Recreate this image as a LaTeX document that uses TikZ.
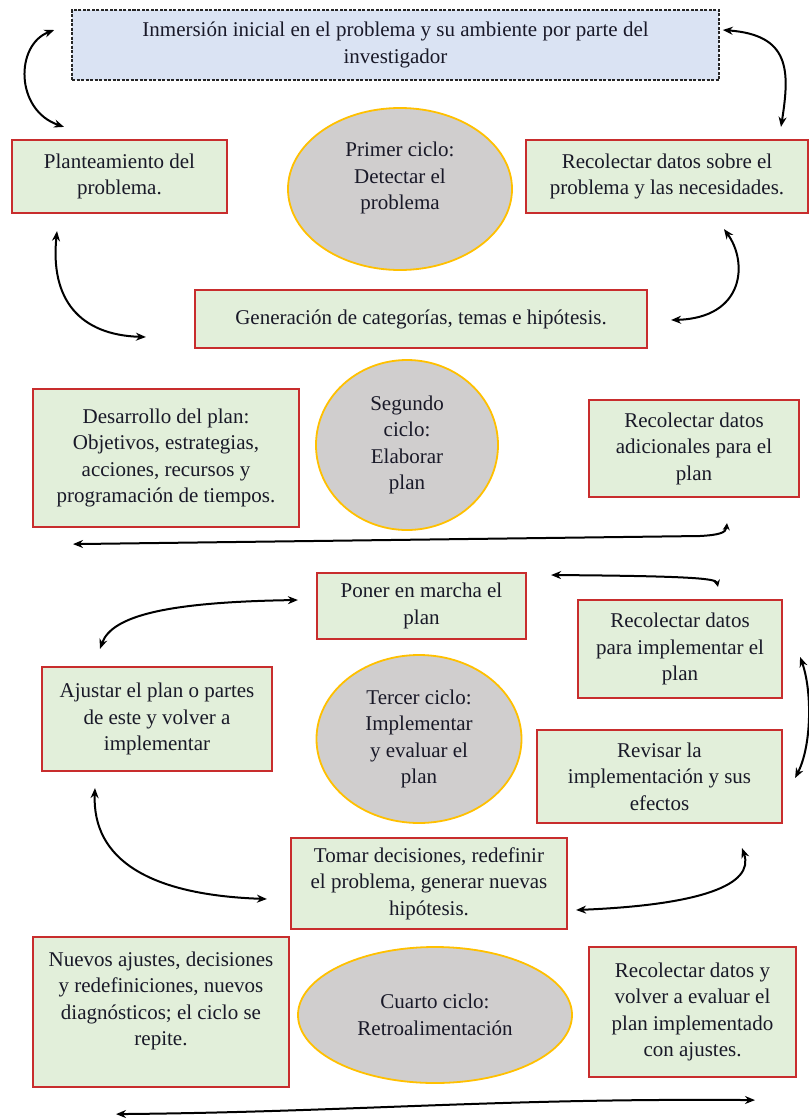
\documentclass[tikz,border=0pt]{standalone}
\usepackage{fontspec}
\setmainfont{Liberation Serif}
\usetikzlibrary{arrows.meta,shapes.geometric}
\definecolor{boxred}{RGB}{200,45,45}
\definecolor{boxgreen}{RGB}{226,239,218}
\definecolor{cgray}{RGB}{208,206,206}
\definecolor{cgold}{RGB}{255,192,0}
\definecolor{topblue}{RGB}{218,227,243}
\definecolor{txt}{RGB}{25,25,40}
\begin{document}
\begin{tikzpicture}[x=1pt,y=-1pt,
  every node/.style={font=\fontsize{21}{26.5}\selectfont, text=txt, align=center, inner sep=0pt},
  stepbox/.style={rectangle, draw=boxred, line width=2.2pt, fill=boxgreen},
  topbox/.style={rectangle, draw=black!85, dash pattern=on 3pt off 1.5pt, line width=1.6pt, fill=topblue},
  cyc/.style={ellipse, draw=cgold, line width=1.8pt, fill=cgray},
  conn/.style={line width=2pt, black, {Stealth[length=10pt,width=8pt]}-{Stealth[length=10pt,width=8pt]}},
  conns/.style={line width=2pt, black, {Stealth[length=7pt,width=7pt]}-{Stealth[length=10pt,width=8pt]}}
]
\useasboundingbox (0,0) rectangle (809,1120);
\fill[white] (0,0) rectangle (809,1120);

% nodes
\node[topbox, minimum width=647pt, minimum height=70pt] (top) at (395.5,45) {Inmersión inicial en el problema y su ambiente por parte del\\investigador};
\node[stepbox, minimum width=215pt, minimum height=73pt] (plant) at (119.5,176.5) {Planteamiento del\\problema.};
\node[cyc, minimum width=224pt, minimum height=162pt] (c1) at (400,189) {Primer ciclo:\\Detectar el\\problema\\\mbox{}};
\node[stepbox, minimum width=282pt, minimum height=73pt] (rec1) at (667,176.5) {Recolectar datos sobre el\\problema y las necesidades.};
\node[stepbox, minimum width=452pt, minimum height=58pt] (gen) at (421,319) {Generación de categorías, temas e hipótesis.};

\node[stepbox, minimum width=266pt, minimum height=138pt] (des) at (166,458) {Desarrollo del plan:\\Objetivos, estrategias,\\acciones, recursos y\\programación de tiempos.};
\node[cyc, minimum width=182pt, minimum height=170pt] (c2) at (407,445) {Segundo\\ciclo:\\Elaborar\\plan};
\node[stepbox, minimum width=210pt, minimum height=97pt] (adi) at (694,448.5) {Recolectar datos\\adicionales para el\\plan};

\node[stepbox, minimum width=209pt, minimum height=66pt] (pon) at (421.5,606) {Poner en marcha el\\plan};
\node[stepbox, minimum width=204pt, minimum height=98pt] (rec3) at (680,649) {Recolectar datos\\para implementar el\\plan};
\node[stepbox, minimum width=230pt, minimum height=104pt] (aju) at (157,719) {Ajustar el plan o partes\\de este y volver a\\implementar};
\node[cyc, minimum width=205pt, minimum height=168pt] (c3) at (419,739) {Tercer ciclo:\\Implementar\\y evaluar el\\plan};
\node[stepbox, minimum width=245pt, minimum height=93pt] (rev) at (659.5,776.5) {Revisar la\\implementación y sus\\efectos};
\node[stepbox, minimum width=276pt, minimum height=91pt] (tom) at (429,883.5) {Tomar decisiones, redefinir\\el problema, generar nuevas\\hipótesis.};

\node[stepbox, minimum width=256pt, minimum height=150pt] (nue) at (161,1012) {Nuevos ajustes, decisiones\\y redefiniciones, nuevos\\diagnósticos; el ciclo se\\repite.\\\mbox{}};
\node[cyc, minimum width=274pt, minimum height=136pt] (c4) at (435,1015) {Cuarto ciclo:\\Retroalimentación};
\node[stepbox, minimum width=207pt, minimum height=130pt] (rec4) at (692.5,1012) {Recolectar datos y\\volver a evaluar el\\plan implementado\\con ajustes.};

% connectors
\draw[conn] ([shift={(-17,-15)}]top.west) .. controls (15,45) and (15,110) .. ([shift={(-55.5,-12)}]plant.north);
\draw[conn] ([shift={(3,-15)}]top.east) .. controls (790,35) and (790,70) .. ([shift={(114,-12)}]rec1.north);
\draw[conn] ([shift={(-62.5,17)}]plant.south) .. controls (50,300) and (80,335) .. ([shift={(-48,18)}]gen.west);
\draw[conn] ([shift={(57,15)}]rec1.south) .. controls (748,262) and (745,318) .. ([shift={(23,1)}]gen.east);
\draw[conns] ([shift={(33,25)}]adi.south) .. controls (726,533) and (718,535) .. (700,536) -- ([shift={(-93,16)}]des.south);
\draw[conns] ([shift={(38,-12)}]rec3.north) .. controls (716,578) and (680,576) .. ([shift={(24,-31)}]pon.east);
\draw[conn] ([shift={(-57,-17)}]aju.north) .. controls (112,615) and (170,602) .. ([shift={(-18,-6)}]pon.west);
\draw[conn] ([shift={(-62,16)}]aju.south) .. controls (92,860) and (150,895) .. ([shift={(-23,15.5)}]tom.west);
\draw[conn] ([shift={(17,8)}]rec3.east) .. controls (812,690) and (812,745) .. ([shift={(12,1.5)}]rev.east);
\draw[conn] ([shift={(82.5,24)}]rev.south) .. controls (755,885) and (700,905) .. ([shift={(8,26.5)}]tom.east);
\draw[conn] ([shift={(-45,26)}]nue.south) .. controls (350,1112) and (500,1098) .. ([shift={(62.5,22)}]rec4.south);
\end{tikzpicture}
\end{document}
